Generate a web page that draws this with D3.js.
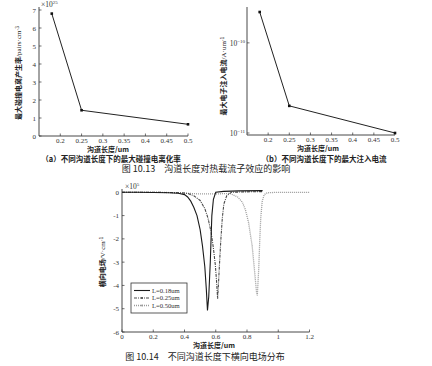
<!DOCTYPE html>
<html>
<head>
<meta charset="utf-8">
<script src="https://cdn.jsdelivr.net/npm/d3@7"></script>
<style>
  body { margin: 0; background: #fff; }
  svg { display: block; }
  .num { font-family: "Liberation Serif", "DejaVu Serif", serif; fill: #333; }
  .cjk { font-family: "Noto Sans CJK SC", sans-serif; fill: #222; }
</style>
</head>
<body>
<svg id="chart" width="432" height="366"></svg>
<script>
// fig 10.13 (a)/(b): channel length vs. peak values
let channelLen = [0.18, 0.25, 0.5];
let ionRate = [6.8, 1.43, 0.65];              // x10^25 pairs/cm^3
let injCurrent = [2.2e-10, 2.0e-11, 1.0e-11]; // A/um
let lenTicks = [0.2, 0.25, 0.3, 0.35, 0.4, 0.45, 0.5];
let rateTicks = [0, 1, 2, 3, 4, 5, 6, 7];
let currentTicks = [1e-11, 1e-10];

// fig 10.14: lateral field along the channel (x10^5 V/cm)
let posTicks = [0, 0.2, 0.4, 0.6, 0.8, 1, 1.2];
let fieldTicks = [0, -1, -2, -3, -4, -5, -6];
let pos18 = [0, 0.1, 0.2, 0.3, 0.36, 0.4, 0.42, 0.44, 0.46, 0.48, 0.5, 0.515, 0.53, 0.54, 0.547, 0.555, 0.565, 0.575, 0.585, 0.6, 0.65, 0.75, 0.9];
let field18 = [0, 0, -0.01, -0.02, -0.04, -0.1, -0.2, -0.38, -0.65, -1.0, -1.6, -2.3, -3.2, -4.2, -5.07, -4.5, -3.0, -1.0, -0.3, 0.0, 0.04, 0.06, 0.07];
let pos25 = [0, 0.1, 0.2, 0.3, 0.38, 0.42, 0.46, 0.5, 0.53, 0.55, 0.57, 0.585, 0.597, 0.605, 0.612, 0.617, 0.623, 0.632, 0.642, 0.652, 0.67, 0.7, 0.8, 0.9];
let field25 = [0, 0, 0, -0.01, -0.02, -0.05, -0.15, -0.35, -0.7, -1.1, -1.7, -2.4, -3.1, -3.8, -4.57, -4.0, -3.2, -2.1, -1.1, -0.5, -0.15, 0.0, 0.02, 0.03];
let pos50 = [0, 0.2, 0.3, 0.4, 0.5, 0.6, 0.69, 0.74, 0.77, 0.79, 0.81, 0.833, 0.848, 0.861, 0.866, 0.875, 0.882, 0.888, 0.897, 0.91, 0.93, 1.0, 1.1, 1.2];
let field50 = [0, 0, -0.01, -0.04, -0.07, -0.07, -0.05, -0.2, -0.42, -0.75, -1.3, -2.3, -3.35, -4.3, -4.43, -3.3, -2.0, -1.1, -0.4, -0.1, -0.02, 0, 0, 0];

let svg = d3.select('#chart');

function superLabel(g, x, y, base, exp, anchor) {
  let t = g.append('text')
    .attr('class', 'num')
    .attr('x', x).attr('y', y)
    .attr('text-anchor', anchor || 'start')
    .style('font-size', '7.5px');
  t.append('tspan').text(base);
  t.append('tspan').attr('dy', -3).style('font-size', '5px').text(exp);
  return t;
}

function drawAxes(xScale, yScale, xTicks, yTicks, xFmt, yFmt, topY) {
  let g = svg.append('g');
  let [x0, x1] = xScale.range();
  let [y0] = yScale.range();
  g.append('path')
    .attr('d', `M${x0},${topY}V${y0}H${x1}`)
    .attr('fill', 'none').attr('stroke', '#333').attr('stroke-width', 0.9);
  g.selectAll('.xt').data(xTicks).enter().append('path')
    .attr('d', d => `M${xScale(d)},${y0}v-2.5`)
    .attr('stroke', '#333').attr('stroke-width', 0.7);
  g.selectAll('.yt').data(yTicks).enter().append('path')
    .attr('d', d => `M${x0},${yScale(d)}h2.5`)
    .attr('stroke', '#333').attr('stroke-width', 0.7);
  g.selectAll('.xl').data(xTicks).enter().append('text')
    .attr('class', 'num')
    .attr('x', d => xScale(d)).attr('y', y0 + 7)
    .attr('text-anchor', 'middle')
    .style('font-size', '7px')
    .text(xFmt);
  if (yFmt) {
    g.selectAll('.yl').data(yTicks).enter().append('text')
      .attr('class', 'num')
      .attr('x', x0 - 3).attr('y', d => yScale(d) + 2.5)
      .attr('text-anchor', 'end')
      .style('font-size', '7px')
      .text(yFmt);
  }
  return g;
}

function caption(x, y, txt, size, weight) {
  svg.append('text')
    .attr('class', 'cjk')
    .attr('x', x).attr('y', y)
    .attr('text-anchor', 'middle')
    .style('font-size', size + 'px')
    .style('font-weight', weight || 'normal')
    .text(txt);
}

function yLabel(x, y, main, unit, sup) {
  let t = svg.append('text')
    .attr('class', 'cjk')
    .attr('transform', `translate(${x},${y}) rotate(-90)`)
    .attr('text-anchor', 'middle')
    .style('font-size', '7px')
    .style('font-weight', 'bold');
  t.append('tspan').text(main);
  t.append('tspan').style('font-weight', 'normal').attr('font-family', 'Liberation Serif').text(unit);
  t.append('tspan').attr('dy', -2.5).style('font-size', '5px').style('font-weight', 'normal').text(sup);
}

function polyline(xs, ys, xScale, yScale) {
  return d3.line().x(d => xScale(d[0])).y(d => yScale(d[1]))(d3.zip(xs, ys));
}

// ---- panel (a)
let xA = d3.scaleLinear().domain([0.15, 0.5]).range([39, 188]);
let yA = d3.scaleLinear().domain([0, 7]).range([136, 10]);
drawAxes(xA, yA, lenTicks, rateTicks, d => d3.format('')(d), d => d, 7);
superLabel(svg, 41, 7, '×10', '25');
svg.append('path')
  .attr('d', polyline(channelLen, ionRate, xA, yA))
  .attr('fill', 'none').attr('stroke', '#222').attr('stroke-width', 1);
svg.selectAll('.ma').data(d3.zip(channelLen, ionRate)).enter().append('rect')
  .attr('x', d => xA(d[0]) - 1.3).attr('y', d => yA(d[1]) - 1.3)
  .attr('width', 2.6).attr('height', 2.6).attr('fill', '#111');
yLabel(21, 73, '最大碰撞电离产生率', '/pairs·cm', '-3');
caption(108, 152, '沟道长度/um', 7, 'bold');
caption(111, 161.5, '（a）不同沟道长度下的最大碰撞电离化率', 7.5, 'bold');

// ---- panel (b)
let xB = d3.scaleLinear().domain([0.15, 0.5]).range([247, 395]);
let yB = d3.scaleLog().domain([9.5e-12, 2.5e-10]).range([135, 7]);
let gB = drawAxes(xB, yB, lenTicks, currentTicks, d => d3.format('')(d), null, 7);
currentTicks.forEach(v => {
  superLabel(gB, 245, yB(v) + 3, '10', '−' + Math.round(-Math.log10(v)), 'end');
});
svg.append('path')
  .attr('d', polyline(channelLen, injCurrent, xB, yB))
  .attr('fill', 'none').attr('stroke', '#222').attr('stroke-width', 1);
svg.selectAll('.mb').data(d3.zip(channelLen, injCurrent)).enter().append('rect')
  .attr('x', d => xB(d[0]) - 1.3).attr('y', d => yB(d[1]) - 1.3)
  .attr('width', 2.6).attr('height', 2.6).attr('fill', '#111');
yLabel(226, 76, '最大电子注入电流', '/A·um', '-1');
caption(318, 151, '沟道长度/um', 7, 'bold');
caption(324, 161.5, '（b）不同沟道长度下的最大注入电流', 7.5, 'bold');

caption(206, 172, '图 10.13　沟道长度对热载流子效应的影响', 9);

// ---- fig 10.14
let xC = d3.scaleLinear().domain([0, 1.2]).range([122, 309.5]);
let yC = d3.scaleLinear().domain([-6, 0]).range([332, 192.3]);
drawAxes(xC, yC, posTicks, fieldTicks, d => d, d => d, 189);
superLabel(svg, 125, 189, '×10', '5');

let series = [
  { name: 'L=0.18um', xs: pos18, ys: field18, color: '#1a1a1a', dash: null, w: 1.1 },
  { name: 'L=0.25um', xs: pos25, ys: field25, color: '#4a4a4a', dash: '3,1,1,1', w: 1.1 },
  { name: 'L=0.50um', xs: pos50, ys: field50, color: '#9a9a9a', dash: '1,1', w: 1.3 }
];
series.slice().reverse().forEach(s => {
  svg.append('path')
    .attr('d', polyline(s.xs, s.ys, xC, yC))
    .attr('fill', 'none')
    .attr('stroke', s.color)
    .attr('stroke-width', s.w)
    .attr('stroke-dasharray', s.dash);
});

let legend = svg.append('g').attr('transform', 'translate(131,283)');
legend.append('rect')
  .attr('width', 56).attr('height', 30)
  .attr('fill', '#fff').attr('stroke', '#333').attr('stroke-width', 0.8);
series.forEach((s, i) => {
  let ly = 7.5 + i * 7.5;
  legend.append('path')
    .attr('d', `M3,${ly}H19`)
    .attr('stroke', s.color).attr('stroke-width', s.w)
    .attr('stroke-dasharray', s.dash);
  if (i > 0) {
    legend.append('circle').attr('cx', 11).attr('cy', ly).attr('r', 1).attr('fill', s.color);
  }
  legend.append('text')
    .attr('class', 'num')
    .attr('x', 21).attr('y', ly + 2.3)
    .style('font-size', '6.6px')
    .text(s.name);
});

yLabel(105, 262, '横向电场', '/V·cm', '-1');
caption(214, 347.5, '沟道长度/um', 7, 'bold');
caption(205, 360, '图 10.14　不同沟道长度下横向电场分布', 9);
</script>
</body>
</html>
